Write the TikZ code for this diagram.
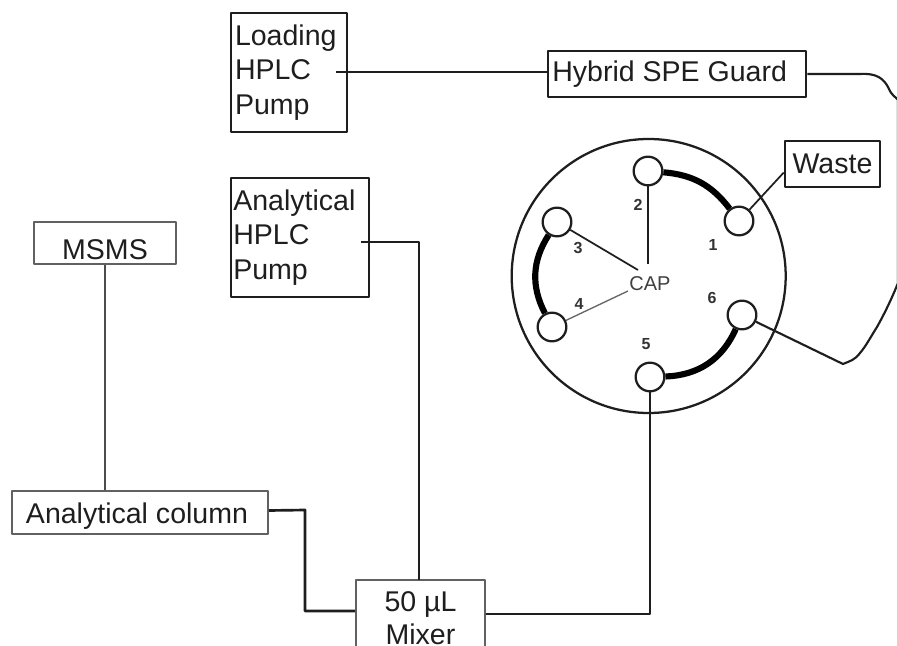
\documentclass[tikz,border=0pt]{standalone}
\usepackage{fontspec}
\setmainfont{Liberation Sans}
\definecolor{ink}{HTML}{1E1E1E}
\begin{document}
\begin{tikzpicture}[x=0.75pt,y=-0.75pt,line join=round,
  box/.style={draw=ink,line width=2pt,rectangle,inner sep=0pt,fill=white,text=ink,font=\fontsize{21.4}{26}\selectfont},
  thinbox/.style={box,draw=black!62,line width=1.4pt},
  pipe/.style={draw=ink,line width=2pt},
  thinpipe/.style={draw=ink,line width=1.3pt},
  loop/.style={draw=black,line width=4.6pt},
  port/.style={circle,draw=ink,line width=1.7pt,fill=white,minimum size=21.5pt,inner sep=0pt},
  num/.style={inner sep=0pt,text=black!80,font=\fontsize{12}{14}\selectfont\bfseries},
]
\clip (0,0) rectangle (897,646);
\fill[white] (0,0) rectangle (897,646);

% Valve body
\node[circle,draw=ink,line width=1.7pt,minimum size=205.5pt,inner sep=0pt] (valve) at (648.7,276) {};

% Boxes
\node[box,minimum width=87pt,minimum height=89.25pt,text width=81pt,align=left] (load) at (289,72.5) {Loading\\HPLC\\Pump};
\node[box,minimum width=103.5pt,minimum height=89.25pt,text width=100pt,align=left] (anal) at (300,237.5) {Analytical\\HPLC\\Pump};
\node[box,minimum width=193.5pt,minimum height=34.5pt] (guard) at (677,74) {\hspace*{-11pt}Hybrid SPE Guard};
\node[box,minimum width=71.25pt,minimum height=34.5pt] (waste) at (832.5,164) {Waste};
\node[thinbox,minimum width=106.5pt,minimum height=31.5pt] (msms) at (105,243) {\raisebox{-12pt}[0pt][0pt]{MSMS}};
\node[thinbox,minimum width=192pt,minimum height=32.25pt] (column) at (140,512.5) {\hspace*{-4.5pt}\raisebox{-8pt}[0pt][0pt]{Analytical column}};
\node[thinbox,minimum width=96.75pt,minimum height=57pt,align=center,font=\fontsize{21.4}{24.5}\selectfont] (mixer) at (420.5,618) {50 µL\\Mixer};

% Free ends
\coordinate (loadEnd) at (336,72);
\coordinate (analEnd) at (361,242);
\coordinate (capN) at (648,264);
\coordinate (capW) at (638,270);
\coordinate (capS) at (628,291);
\coordinate (kink) at (843,364);

% Valve ports
\node[port] (p2) at (648,171) {};
\node[port] (p1) at (739,221) {};
\node[port] (p3) at (557,222) {};
\node[port] (p4) at (552,327) {};
\node[port] (p5) at (650,377) {};
\node[port] (p6) at (742,315) {};

% Loops between ports
\draw[loop] (p2) to[bend left=24] (p1);
\draw[loop] (p3) to[bend right=30] (p4);
\draw[loop] (p5) to[bend right=32] (p6);

% Lines inside the valve
\draw[thinpipe] (p2) -- (capN);
\draw[thinpipe] (p3) -- (capW);
\draw[draw=black!60,line width=1pt] (p4) -- (capS);
\draw[thinpipe] (p1) -- (waste.190);

% Plumbing
\draw[pipe] (loadEnd) -- (loadEnd -| guard.west);
\draw[pipe] (analEnd) -- (419,242) -- (419,580);
\draw[thinpipe,draw=black!70] (msms) -- (column.north -| msms);
\draw[pipe] (column.east) ++(0,-2) -- (305,510) -- (305,611) -- (mixer.west |- 0,611);
\draw[pipe] (mixer.east |- 0,614) -- (650,614) -- (p5);
\draw[thinpipe,line width=1.6pt] (guard.east) -- (860,74) .. controls (876,73) and (884,78) .. (889,89)
  .. controls (892,96) and (896,97) .. (898,100) -- (898,283)
  .. controls (890,303) and (882,318) .. (877,327)
  .. controls (870,338) and (866,346) .. (860,353)
  .. controls (855,360) and (850,361) .. (kink) -- (p6);

% Labels
\node[num] (n1) at (713,245) {1};
\node[num] (n2) at (638,205) {2};
\node[num] (n3) at (578,248) {3};
\node[num] (n4) at (579,304) {4};
\node[num] (n5) at (646,344) {5};
\node[num] (n6) at (712,298) {6};
\node[inner sep=0pt,text=black!75,font=\fontsize{15}{18}\selectfont] (cap) at (650,284) {CAP};
\end{tikzpicture}
\end{document}
